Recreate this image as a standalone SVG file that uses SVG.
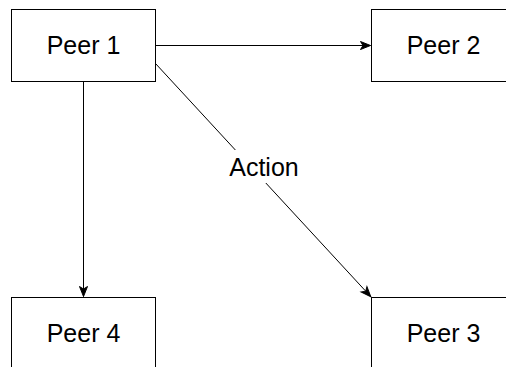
<svg xmlns="http://www.w3.org/2000/svg" width="506" height="367" viewBox="0 0 506 367">
<style>
.node rect{fill:#fff;stroke:#000;stroke-width:1}
.node text{font-family:"Liberation Sans",Arial,Helvetica,sans-serif;font-size:25px;fill:#000;text-anchor:middle}
.edge{fill:none;stroke:#000;stroke-width:1;marker-end:url(#arrow)}
.lbl{font-family:"Liberation Sans",Arial,Helvetica,sans-serif;font-size:25px;fill:#000;text-anchor:middle}
</style>
<defs>
<marker id="arrow" markerUnits="userSpaceOnUse" markerWidth="12" markerHeight="10" refX="10" refY="4" orient="auto" overflow="visible">
<path d="M0,0 L10,4 L0,8 L2.5,4 Z" fill="#000" stroke="#000" stroke-width="1"/>
</marker>
</defs>
<rect width="506" height="367" fill="#fff"/>
<g id="connectors">
<path class="edge" d="M155.5,45.5 L370.5,45.5"/>
<path class="edge" d="M83.5,81.5 L83.5,296.5"/>
<path class="edge" d="M155.5,63.5 L370.8,296.7"/>
<rect x="229" y="150" width="71" height="33" fill="#fff"/>
<text class="lbl" x="264" y="176">Action</text>
</g>
<g id="peer1" class="node"><rect x="11.5" y="9.5" width="144" height="72"/><text x="83.5" y="54">Peer 1</text></g>
<g id="peer2" class="node"><rect x="371.5" y="9.5" width="144" height="72"/><text x="443.5" y="54">Peer 2</text></g>
<g id="peer4" class="node"><rect x="11.5" y="297.5" width="144" height="72"/><text x="83.5" y="342">Peer 4</text></g>
<g id="peer3" class="node"><rect x="371.5" y="297.5" width="144" height="72"/><text x="443.5" y="342">Peer 3</text></g>
</svg>
